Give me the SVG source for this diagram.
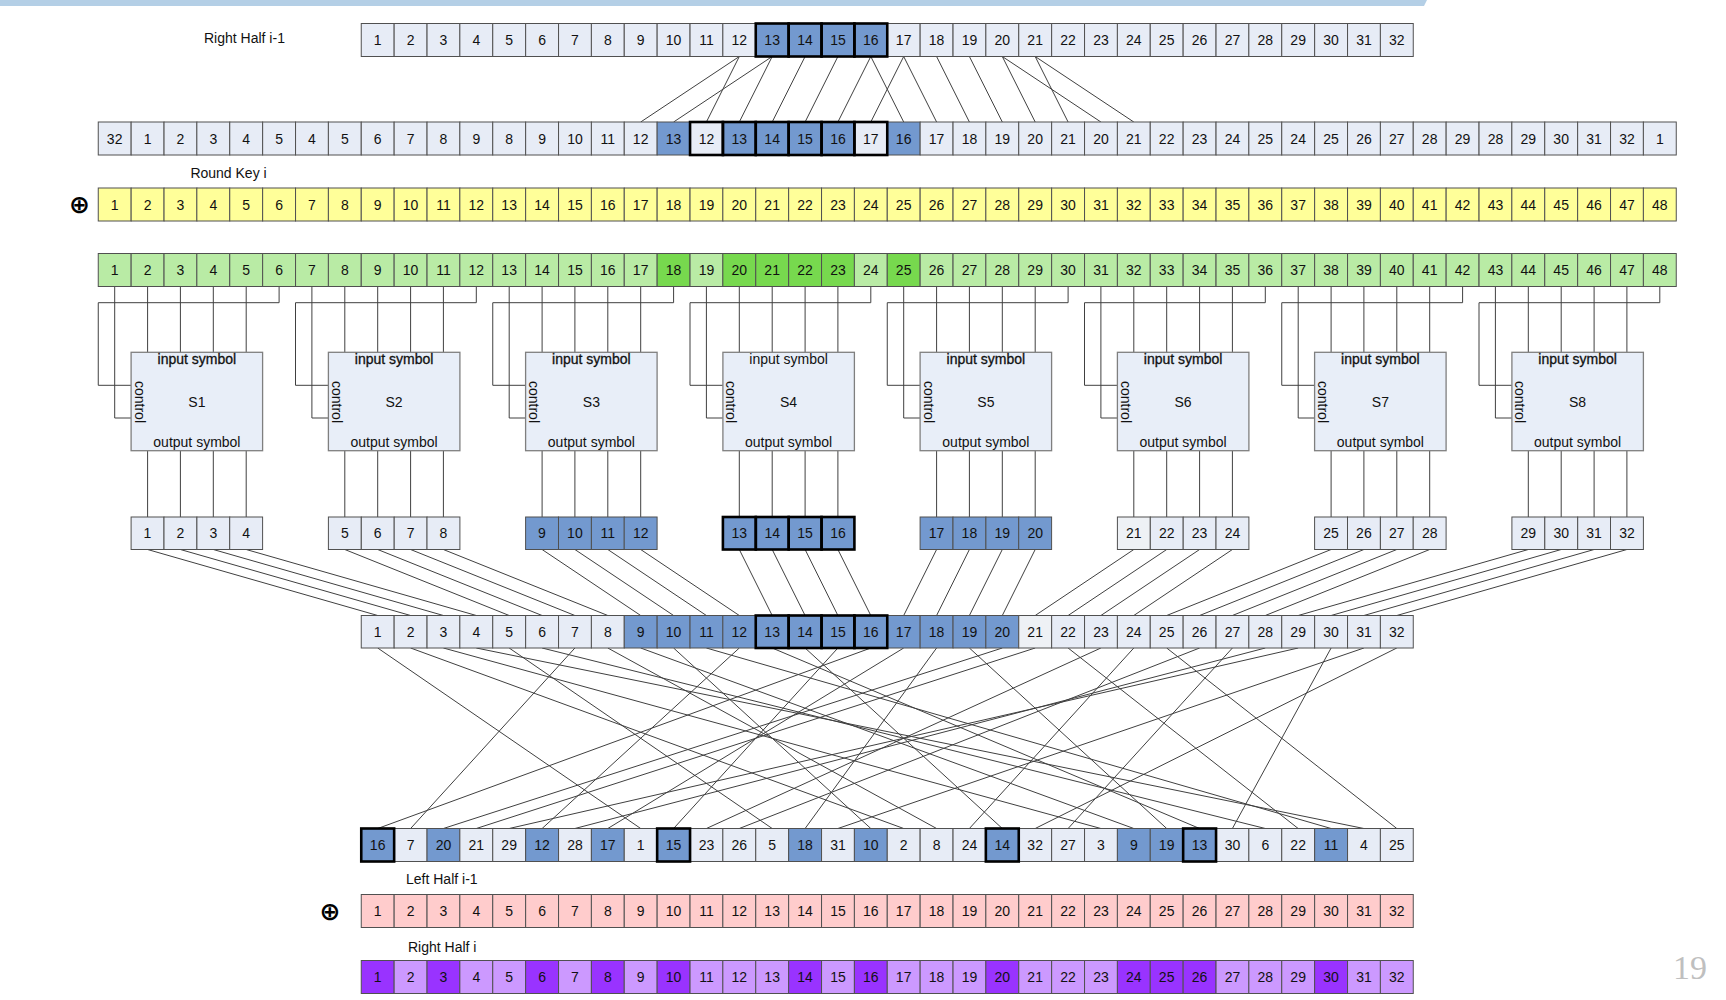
<svg xmlns="http://www.w3.org/2000/svg" width="1726" height="1000" viewBox="0 0 1726 1000">
<style>
.c{fill:#e7ecf6;stroke:#505050;stroke-width:1}
.w{fill:#eef1f5;stroke:#505050;stroke-width:1}
.b{fill:#7399cf;stroke:#505050;stroke-width:1}
.y{fill:#ffff99;stroke:#505050;stroke-width:1}
.g{fill:#b9eba5;stroke:#505050;stroke-width:1}
.G{fill:#77d94e;stroke:#505050;stroke-width:1}
.p{fill:#ffcccc;stroke:#505050;stroke-width:1}
.v{fill:#cc99ff;stroke:#505050;stroke-width:1}
.V{fill:#9933ff;stroke:#505050;stroke-width:1}
.bo{fill:none;stroke:#000;stroke-width:2.6}
.box{fill:#e8eef8;stroke:#7f7f7f;stroke-width:1.3}
.ln{fill:none;stroke:#404040;stroke-width:1}
text{font-family:'Liberation Sans',Arial,sans-serif;font-size:14px;fill:#111;text-anchor:middle}
.lbl{text-anchor:start}
.fb{stroke:#111;stroke-width:0.3}
.xor{font-family:'DejaVu Sans',sans-serif;font-size:25px;font-weight:bold;fill:#000}
.pg{font-family:'Liberation Serif',serif;font-size:34px;fill:#bfbfbf;text-anchor:start}
</style>

<polygon points="0,0 1427,0 1424,6 0,6" fill="#b4cfe6"/>

<g id="labels">
<text class="lbl" x="204" y="43.3">Right Half i-1</text>
<text class="lbl" x="190.4" y="178">Round Key i</text>
<text class="lbl" x="406" y="883.5">Left Half i-1</text>
<text class="lbl" x="408" y="952">Right Half i</text>
<text class="xor" x="79.5" y="212.5">⊕</text>
<text class="xor" x="330" y="919.5">⊕</text>
<text class="pg" x="1673" y="979">19</text>
</g>

<g id="connectors">
<path class="ln" d="M739.3,56.5L640.7,122 M772.2,56.5L673.6,122 M739.3,56.5L706.4,122 M772.2,56.5L739.3,122 M805.1,56.5L772.2,122 M837.9,56.5L805.1,122 M870.8,56.5L837.9,122 M903.7,56.5L870.8,122 M870.8,56.5L903.7,122 M903.7,56.5L936.6,122 M936.6,56.5L969.4,122 M969.4,56.5L1002.3,122 M1002.3,56.5L1035.2,122 M1035.2,56.5L1068.1,122 M1002.3,56.5L1100.9,122 M1035.2,56.5L1133.8,122"/>
<path class="ln" d="M114.7,286.5V418H131.1 M279.1,286.5V302.7H98.25V385.3H131.1 M147.6,286.5V352.3 M180.4,286.5V352.3 M213.3,286.5V352.3 M246.2,286.5V352.3 M147.6,450.7V517 M180.4,450.7V517 M213.3,450.7V517 M246.2,450.7V517"/>
<path class="ln" d="M311.9,286.5V418H328.4 M476.3,286.5V302.7H295.5V385.3H328.4 M344.8,286.5V352.3 M377.7,286.5V352.3 M410.6,286.5V352.3 M443.4,286.5V352.3 M344.8,450.7V517 M377.7,450.7V517 M410.6,450.7V517 M443.4,450.7V517"/>
<path class="ln" d="M509.2,286.5V418H525.6 M673.6,286.5V302.7H492.75V385.3H525.6 M542.1,286.5V352.3 M574.9,286.5V352.3 M607.8,286.5V352.3 M640.7,286.5V352.3 M542.1,450.7V517 M574.9,450.7V517 M607.8,450.7V517 M640.7,450.7V517"/>
<path class="ln" d="M706.4,286.5V418H722.9 M870.8,286.5V302.7H690V385.3H722.9 M739.3,286.5V352.3 M772.2,286.5V352.3 M805.1,286.5V352.3 M837.9,286.5V352.3 M739.3,450.7V517 M772.2,450.7V517 M805.1,450.7V517 M837.9,450.7V517"/>
<path class="ln" d="M903.7,286.5V418H920.1 M1068.1,286.5V302.7H887.25V385.3H920.1 M936.6,286.5V352.3 M969.4,286.5V352.3 M1002.3,286.5V352.3 M1035.2,286.5V352.3 M936.6,450.7V517 M969.4,450.7V517 M1002.3,450.7V517 M1035.2,450.7V517"/>
<path class="ln" d="M1100.9,286.5V418H1117.4 M1265.3,286.5V302.7H1084.5V385.3H1117.4 M1133.8,286.5V352.3 M1166.7,286.5V352.3 M1199.6,286.5V352.3 M1232.4,286.5V352.3 M1133.8,450.7V517 M1166.7,450.7V517 M1199.6,450.7V517 M1232.4,450.7V517"/>
<path class="ln" d="M1298.2,286.5V418H1314.6 M1462.6,286.5V302.7H1281.75V385.3H1314.6 M1331.1,286.5V352.3 M1363.9,286.5V352.3 M1396.8,286.5V352.3 M1429.7,286.5V352.3 M1331.1,450.7V517 M1363.9,450.7V517 M1396.8,450.7V517 M1429.7,450.7V517"/>
<path class="ln" d="M1495.4,286.5V418H1511.9 M1659.8,286.5V302.7H1479V385.3H1511.9 M1528.3,286.5V352.3 M1561.2,286.5V352.3 M1594.1,286.5V352.3 M1626.9,286.5V352.3 M1528.3,450.7V517 M1561.2,450.7V517 M1594.1,450.7V517 M1626.9,450.7V517"/>
<path class="ln" d="M147.6,549.5L377.7,615.5 M180.4,549.5L410.6,615.5 M213.3,549.5L443.4,615.5 M246.2,549.5L476.3,615.5 M344.8,549.5L509.2,615.5 M377.7,549.5L542.1,615.5 M410.6,549.5L574.9,615.5 M443.4,549.5L607.8,615.5 M542.1,549.5L640.7,615.5 M574.9,549.5L673.6,615.5 M607.8,549.5L706.4,615.5 M640.7,549.5L739.3,615.5 M739.3,549.5L772.2,615.5 M772.2,549.5L805.1,615.5 M805.1,549.5L837.9,615.5 M837.9,549.5L870.8,615.5 M936.6,549.5L903.7,615.5 M969.4,549.5L936.6,615.5 M1002.3,549.5L969.4,615.5 M1035.2,549.5L1002.3,615.5 M1133.8,549.5L1035.2,615.5 M1166.7,549.5L1068.1,615.5 M1199.6,549.5L1100.9,615.5 M1232.4,549.5L1133.8,615.5 M1331.1,549.5L1166.7,615.5 M1363.9,549.5L1199.6,615.5 M1396.8,549.5L1232.4,615.5 M1429.7,549.5L1265.3,615.5 M1528.3,549.5L1298.2,615.5 M1561.2,549.5L1331.1,615.5 M1594.1,549.5L1363.9,615.5 M1626.9,549.5L1396.8,615.5"/>
<path class="ln" d="M870.8,648L377.7,828.5 M574.9,648L410.6,828.5 M1002.3,648L443.4,828.5 M1035.2,648L476.3,828.5 M1298.2,648L509.2,828.5 M739.3,648L542.1,828.5 M1265.3,648L574.9,828.5 M903.7,648L607.8,828.5 M377.7,648L640.7,828.5 M837.9,648L673.6,828.5 M1100.9,648L706.4,828.5 M1199.6,648L739.3,828.5 M509.2,648L772.2,828.5 M936.6,648L805.1,828.5 M1363.9,648L837.9,828.5 M673.6,648L870.8,828.5 M410.6,648L903.7,828.5 M607.8,648L936.6,828.5 M1133.8,648L969.4,828.5 M805.1,648L1002.3,828.5 M1396.8,648L1035.2,828.5 M1232.4,648L1068.1,828.5 M443.4,648L1100.9,828.5 M640.7,648L1133.8,828.5 M969.4,648L1166.7,828.5 M772.2,648L1199.6,828.5 M1331.1,648L1232.4,828.5 M542.1,648L1265.3,828.5 M1068.1,648L1298.2,828.5 M706.4,648L1331.1,828.5 M476.3,648L1363.9,828.5 M1166.7,648L1396.8,828.5"/>
</g>

<g id="right-half-prev" transform="translate(361.25,23.5)">
<rect class="c" x="0" width="32.9" height="33"/><text x="16.4" y="21.5">1</text>
<rect class="c" x="32.9" width="32.9" height="33"/><text x="49.3" y="21.5">2</text>
<rect class="c" x="65.8" width="32.9" height="33"/><text x="82.2" y="21.5">3</text>
<rect class="c" x="98.6" width="32.9" height="33"/><text x="115.1" y="21.5">4</text>
<rect class="c" x="131.5" width="32.9" height="33"/><text x="147.9" y="21.5">5</text>
<rect class="c" x="164.4" width="32.9" height="33"/><text x="180.8" y="21.5">6</text>
<rect class="c" x="197.3" width="32.9" height="33"/><text x="213.7" y="21.5">7</text>
<rect class="c" x="230.1" width="32.9" height="33"/><text x="246.6" y="21.5">8</text>
<rect class="c" x="263" width="32.9" height="33"/><text x="279.4" y="21.5">9</text>
<rect class="c" x="295.9" width="32.9" height="33"/><text x="312.3" y="21.5">10</text>
<rect class="c" x="328.8" width="32.9" height="33"/><text x="345.2" y="21.5">11</text>
<rect class="c" x="361.6" width="32.9" height="33"/><text x="378.1" y="21.5">12</text>
<rect class="b" x="394.5" width="32.9" height="33"/><text x="410.9" y="21.5">13</text>
<rect class="b" x="427.4" width="32.9" height="33"/><text x="443.8" y="21.5">14</text>
<rect class="b" x="460.3" width="32.9" height="33"/><text x="476.7" y="21.5">15</text>
<rect class="b" x="493.1" width="32.9" height="33"/><text x="509.6" y="21.5">16</text>
<rect class="c" x="526" width="32.9" height="33"/><text x="542.4" y="21.5">17</text>
<rect class="c" x="558.9" width="32.9" height="33"/><text x="575.3" y="21.5">18</text>
<rect class="c" x="591.8" width="32.9" height="33"/><text x="608.2" y="21.5">19</text>
<rect class="c" x="624.6" width="32.9" height="33"/><text x="641.1" y="21.5">20</text>
<rect class="c" x="657.5" width="32.9" height="33"/><text x="673.9" y="21.5">21</text>
<rect class="c" x="690.4" width="32.9" height="33"/><text x="706.8" y="21.5">22</text>
<rect class="c" x="723.3" width="32.9" height="33"/><text x="739.7" y="21.5">23</text>
<rect class="c" x="756.1" width="32.9" height="33"/><text x="772.6" y="21.5">24</text>
<rect class="c" x="789" width="32.9" height="33"/><text x="805.4" y="21.5">25</text>
<rect class="c" x="821.9" width="32.9" height="33"/><text x="838.3" y="21.5">26</text>
<rect class="c" x="854.8" width="32.9" height="33"/><text x="871.2" y="21.5">27</text>
<rect class="c" x="887.6" width="32.9" height="33"/><text x="904.1" y="21.5">28</text>
<rect class="c" x="920.5" width="32.9" height="33"/><text x="936.9" y="21.5">29</text>
<rect class="c" x="953.4" width="32.9" height="33"/><text x="969.8" y="21.5">30</text>
<rect class="c" x="986.3" width="32.9" height="33"/><text x="1002.7" y="21.5">31</text>
<rect class="c" x="1019.1" width="32.9" height="33"/><text x="1035.6" y="21.5">32</text>
<rect class="bo" x="394.5" width="32.9" height="33"/><rect class="bo" x="427.4" width="32.9" height="33"/><rect class="bo" x="460.3" width="32.9" height="33"/><rect class="bo" x="493.1" width="32.9" height="33"/>
</g>

<g id="expansion" transform="translate(98.25,122)">
<rect class="c" x="0" width="32.9" height="33"/><text x="16.4" y="21.5">32</text>
<rect class="c" x="32.9" width="32.9" height="33"/><text x="49.3" y="21.5">1</text>
<rect class="c" x="65.8" width="32.9" height="33"/><text x="82.2" y="21.5">2</text>
<rect class="c" x="98.6" width="32.9" height="33"/><text x="115.1" y="21.5">3</text>
<rect class="c" x="131.5" width="32.9" height="33"/><text x="147.9" y="21.5">4</text>
<rect class="c" x="164.4" width="32.9" height="33"/><text x="180.8" y="21.5">5</text>
<rect class="c" x="197.3" width="32.9" height="33"/><text x="213.7" y="21.5">4</text>
<rect class="c" x="230.1" width="32.9" height="33"/><text x="246.6" y="21.5">5</text>
<rect class="c" x="263" width="32.9" height="33"/><text x="279.4" y="21.5">6</text>
<rect class="c" x="295.9" width="32.9" height="33"/><text x="312.3" y="21.5">7</text>
<rect class="c" x="328.8" width="32.9" height="33"/><text x="345.2" y="21.5">8</text>
<rect class="c" x="361.6" width="32.9" height="33"/><text x="378.1" y="21.5">9</text>
<rect class="c" x="394.5" width="32.9" height="33"/><text x="410.9" y="21.5">8</text>
<rect class="c" x="427.4" width="32.9" height="33"/><text x="443.8" y="21.5">9</text>
<rect class="c" x="460.3" width="32.9" height="33"/><text x="476.7" y="21.5">10</text>
<rect class="c" x="493.1" width="32.9" height="33"/><text x="509.6" y="21.5">11</text>
<rect class="c" x="526" width="32.9" height="33"/><text x="542.4" y="21.5">12</text>
<rect class="b" x="558.9" width="32.9" height="33"/><text x="575.3" y="21.5">13</text>
<rect class="c" x="591.8" width="32.9" height="33"/><text x="608.2" y="21.5">12</text>
<rect class="b" x="624.6" width="32.9" height="33"/><text x="641.1" y="21.5">13</text>
<rect class="b" x="657.5" width="32.9" height="33"/><text x="673.9" y="21.5">14</text>
<rect class="b" x="690.4" width="32.9" height="33"/><text x="706.8" y="21.5">15</text>
<rect class="b" x="723.3" width="32.9" height="33"/><text x="739.7" y="21.5">16</text>
<rect class="c" x="756.1" width="32.9" height="33"/><text x="772.6" y="21.5">17</text>
<rect class="b" x="789" width="32.9" height="33"/><text x="805.4" y="21.5">16</text>
<rect class="c" x="821.9" width="32.9" height="33"/><text x="838.3" y="21.5">17</text>
<rect class="c" x="854.8" width="32.9" height="33"/><text x="871.2" y="21.5">18</text>
<rect class="c" x="887.6" width="32.9" height="33"/><text x="904.1" y="21.5">19</text>
<rect class="c" x="920.5" width="32.9" height="33"/><text x="936.9" y="21.5">20</text>
<rect class="c" x="953.4" width="32.9" height="33"/><text x="969.8" y="21.5">21</text>
<rect class="c" x="986.3" width="32.9" height="33"/><text x="1002.7" y="21.5">20</text>
<rect class="c" x="1019.1" width="32.9" height="33"/><text x="1035.6" y="21.5">21</text>
<rect class="c" x="1052" width="32.9" height="33"/><text x="1068.4" y="21.5">22</text>
<rect class="c" x="1084.9" width="32.9" height="33"/><text x="1101.3" y="21.5">23</text>
<rect class="c" x="1117.8" width="32.9" height="33"/><text x="1134.2" y="21.5">24</text>
<rect class="c" x="1150.6" width="32.9" height="33"/><text x="1167.1" y="21.5">25</text>
<rect class="c" x="1183.5" width="32.9" height="33"/><text x="1199.9" y="21.5">24</text>
<rect class="c" x="1216.4" width="32.9" height="33"/><text x="1232.8" y="21.5">25</text>
<rect class="c" x="1249.3" width="32.9" height="33"/><text x="1265.7" y="21.5">26</text>
<rect class="c" x="1282.1" width="32.9" height="33"/><text x="1298.6" y="21.5">27</text>
<rect class="c" x="1315" width="32.9" height="33"/><text x="1331.4" y="21.5">28</text>
<rect class="c" x="1347.9" width="32.9" height="33"/><text x="1364.3" y="21.5">29</text>
<rect class="c" x="1380.8" width="32.9" height="33"/><text x="1397.2" y="21.5">28</text>
<rect class="c" x="1413.6" width="32.9" height="33"/><text x="1430.1" y="21.5">29</text>
<rect class="c" x="1446.5" width="32.9" height="33"/><text x="1462.9" y="21.5">30</text>
<rect class="c" x="1479.4" width="32.9" height="33"/><text x="1495.8" y="21.5">31</text>
<rect class="c" x="1512.3" width="32.9" height="33"/><text x="1528.7" y="21.5">32</text>
<rect class="c" x="1545.1" width="32.9" height="33"/><text x="1561.6" y="21.5">1</text>
<rect class="bo" x="591.8" width="32.9" height="33"/><rect class="bo" x="624.6" width="32.9" height="33"/><rect class="bo" x="657.5" width="32.9" height="33"/><rect class="bo" x="690.4" width="32.9" height="33"/><rect class="bo" x="723.3" width="32.9" height="33"/><rect class="bo" x="756.1" width="32.9" height="33"/>
</g>

<g id="round-key" transform="translate(98.25,188)">
<rect class="y" x="0" width="32.9" height="33"/><text x="16.4" y="21.5">1</text>
<rect class="y" x="32.9" width="32.9" height="33"/><text x="49.3" y="21.5">2</text>
<rect class="y" x="65.8" width="32.9" height="33"/><text x="82.2" y="21.5">3</text>
<rect class="y" x="98.6" width="32.9" height="33"/><text x="115.1" y="21.5">4</text>
<rect class="y" x="131.5" width="32.9" height="33"/><text x="147.9" y="21.5">5</text>
<rect class="y" x="164.4" width="32.9" height="33"/><text x="180.8" y="21.5">6</text>
<rect class="y" x="197.3" width="32.9" height="33"/><text x="213.7" y="21.5">7</text>
<rect class="y" x="230.1" width="32.9" height="33"/><text x="246.6" y="21.5">8</text>
<rect class="y" x="263" width="32.9" height="33"/><text x="279.4" y="21.5">9</text>
<rect class="y" x="295.9" width="32.9" height="33"/><text x="312.3" y="21.5">10</text>
<rect class="y" x="328.8" width="32.9" height="33"/><text x="345.2" y="21.5">11</text>
<rect class="y" x="361.6" width="32.9" height="33"/><text x="378.1" y="21.5">12</text>
<rect class="y" x="394.5" width="32.9" height="33"/><text x="410.9" y="21.5">13</text>
<rect class="y" x="427.4" width="32.9" height="33"/><text x="443.8" y="21.5">14</text>
<rect class="y" x="460.3" width="32.9" height="33"/><text x="476.7" y="21.5">15</text>
<rect class="y" x="493.1" width="32.9" height="33"/><text x="509.6" y="21.5">16</text>
<rect class="y" x="526" width="32.9" height="33"/><text x="542.4" y="21.5">17</text>
<rect class="y" x="558.9" width="32.9" height="33"/><text x="575.3" y="21.5">18</text>
<rect class="y" x="591.8" width="32.9" height="33"/><text x="608.2" y="21.5">19</text>
<rect class="y" x="624.6" width="32.9" height="33"/><text x="641.1" y="21.5">20</text>
<rect class="y" x="657.5" width="32.9" height="33"/><text x="673.9" y="21.5">21</text>
<rect class="y" x="690.4" width="32.9" height="33"/><text x="706.8" y="21.5">22</text>
<rect class="y" x="723.3" width="32.9" height="33"/><text x="739.7" y="21.5">23</text>
<rect class="y" x="756.1" width="32.9" height="33"/><text x="772.6" y="21.5">24</text>
<rect class="y" x="789" width="32.9" height="33"/><text x="805.4" y="21.5">25</text>
<rect class="y" x="821.9" width="32.9" height="33"/><text x="838.3" y="21.5">26</text>
<rect class="y" x="854.8" width="32.9" height="33"/><text x="871.2" y="21.5">27</text>
<rect class="y" x="887.6" width="32.9" height="33"/><text x="904.1" y="21.5">28</text>
<rect class="y" x="920.5" width="32.9" height="33"/><text x="936.9" y="21.5">29</text>
<rect class="y" x="953.4" width="32.9" height="33"/><text x="969.8" y="21.5">30</text>
<rect class="y" x="986.3" width="32.9" height="33"/><text x="1002.7" y="21.5">31</text>
<rect class="y" x="1019.1" width="32.9" height="33"/><text x="1035.6" y="21.5">32</text>
<rect class="y" x="1052" width="32.9" height="33"/><text x="1068.4" y="21.5">33</text>
<rect class="y" x="1084.9" width="32.9" height="33"/><text x="1101.3" y="21.5">34</text>
<rect class="y" x="1117.8" width="32.9" height="33"/><text x="1134.2" y="21.5">35</text>
<rect class="y" x="1150.6" width="32.9" height="33"/><text x="1167.1" y="21.5">36</text>
<rect class="y" x="1183.5" width="32.9" height="33"/><text x="1199.9" y="21.5">37</text>
<rect class="y" x="1216.4" width="32.9" height="33"/><text x="1232.8" y="21.5">38</text>
<rect class="y" x="1249.3" width="32.9" height="33"/><text x="1265.7" y="21.5">39</text>
<rect class="y" x="1282.1" width="32.9" height="33"/><text x="1298.6" y="21.5">40</text>
<rect class="y" x="1315" width="32.9" height="33"/><text x="1331.4" y="21.5">41</text>
<rect class="y" x="1347.9" width="32.9" height="33"/><text x="1364.3" y="21.5">42</text>
<rect class="y" x="1380.8" width="32.9" height="33"/><text x="1397.2" y="21.5">43</text>
<rect class="y" x="1413.6" width="32.9" height="33"/><text x="1430.1" y="21.5">44</text>
<rect class="y" x="1446.5" width="32.9" height="33"/><text x="1462.9" y="21.5">45</text>
<rect class="y" x="1479.4" width="32.9" height="33"/><text x="1495.8" y="21.5">46</text>
<rect class="y" x="1512.3" width="32.9" height="33"/><text x="1528.7" y="21.5">47</text>
<rect class="y" x="1545.1" width="32.9" height="33"/><text x="1561.6" y="21.5">48</text>
</g>

<g id="xor-result" transform="translate(98.25,253.5)">
<rect class="g" x="0" width="32.9" height="33"/><text x="16.4" y="21.5">1</text>
<rect class="g" x="32.9" width="32.9" height="33"/><text x="49.3" y="21.5">2</text>
<rect class="g" x="65.8" width="32.9" height="33"/><text x="82.2" y="21.5">3</text>
<rect class="g" x="98.6" width="32.9" height="33"/><text x="115.1" y="21.5">4</text>
<rect class="g" x="131.5" width="32.9" height="33"/><text x="147.9" y="21.5">5</text>
<rect class="g" x="164.4" width="32.9" height="33"/><text x="180.8" y="21.5">6</text>
<rect class="g" x="197.3" width="32.9" height="33"/><text x="213.7" y="21.5">7</text>
<rect class="g" x="230.1" width="32.9" height="33"/><text x="246.6" y="21.5">8</text>
<rect class="g" x="263" width="32.9" height="33"/><text x="279.4" y="21.5">9</text>
<rect class="g" x="295.9" width="32.9" height="33"/><text x="312.3" y="21.5">10</text>
<rect class="g" x="328.8" width="32.9" height="33"/><text x="345.2" y="21.5">11</text>
<rect class="g" x="361.6" width="32.9" height="33"/><text x="378.1" y="21.5">12</text>
<rect class="g" x="394.5" width="32.9" height="33"/><text x="410.9" y="21.5">13</text>
<rect class="g" x="427.4" width="32.9" height="33"/><text x="443.8" y="21.5">14</text>
<rect class="g" x="460.3" width="32.9" height="33"/><text x="476.7" y="21.5">15</text>
<rect class="g" x="493.1" width="32.9" height="33"/><text x="509.6" y="21.5">16</text>
<rect class="g" x="526" width="32.9" height="33"/><text x="542.4" y="21.5">17</text>
<rect class="G" x="558.9" width="32.9" height="33"/><text x="575.3" y="21.5">18</text>
<rect class="g" x="591.8" width="32.9" height="33"/><text x="608.2" y="21.5">19</text>
<rect class="G" x="624.6" width="32.9" height="33"/><text x="641.1" y="21.5">20</text>
<rect class="G" x="657.5" width="32.9" height="33"/><text x="673.9" y="21.5">21</text>
<rect class="G" x="690.4" width="32.9" height="33"/><text x="706.8" y="21.5">22</text>
<rect class="G" x="723.3" width="32.9" height="33"/><text x="739.7" y="21.5">23</text>
<rect class="g" x="756.1" width="32.9" height="33"/><text x="772.6" y="21.5">24</text>
<rect class="G" x="789" width="32.9" height="33"/><text x="805.4" y="21.5">25</text>
<rect class="g" x="821.9" width="32.9" height="33"/><text x="838.3" y="21.5">26</text>
<rect class="g" x="854.8" width="32.9" height="33"/><text x="871.2" y="21.5">27</text>
<rect class="g" x="887.6" width="32.9" height="33"/><text x="904.1" y="21.5">28</text>
<rect class="g" x="920.5" width="32.9" height="33"/><text x="936.9" y="21.5">29</text>
<rect class="g" x="953.4" width="32.9" height="33"/><text x="969.8" y="21.5">30</text>
<rect class="g" x="986.3" width="32.9" height="33"/><text x="1002.7" y="21.5">31</text>
<rect class="g" x="1019.1" width="32.9" height="33"/><text x="1035.6" y="21.5">32</text>
<rect class="g" x="1052" width="32.9" height="33"/><text x="1068.4" y="21.5">33</text>
<rect class="g" x="1084.9" width="32.9" height="33"/><text x="1101.3" y="21.5">34</text>
<rect class="g" x="1117.8" width="32.9" height="33"/><text x="1134.2" y="21.5">35</text>
<rect class="g" x="1150.6" width="32.9" height="33"/><text x="1167.1" y="21.5">36</text>
<rect class="g" x="1183.5" width="32.9" height="33"/><text x="1199.9" y="21.5">37</text>
<rect class="g" x="1216.4" width="32.9" height="33"/><text x="1232.8" y="21.5">38</text>
<rect class="g" x="1249.3" width="32.9" height="33"/><text x="1265.7" y="21.5">39</text>
<rect class="g" x="1282.1" width="32.9" height="33"/><text x="1298.6" y="21.5">40</text>
<rect class="g" x="1315" width="32.9" height="33"/><text x="1331.4" y="21.5">41</text>
<rect class="g" x="1347.9" width="32.9" height="33"/><text x="1364.3" y="21.5">42</text>
<rect class="g" x="1380.8" width="32.9" height="33"/><text x="1397.2" y="21.5">43</text>
<rect class="g" x="1413.6" width="32.9" height="33"/><text x="1430.1" y="21.5">44</text>
<rect class="g" x="1446.5" width="32.9" height="33"/><text x="1462.9" y="21.5">45</text>
<rect class="g" x="1479.4" width="32.9" height="33"/><text x="1495.8" y="21.5">46</text>
<rect class="g" x="1512.3" width="32.9" height="33"/><text x="1528.7" y="21.5">47</text>
<rect class="g" x="1545.1" width="32.9" height="33"/><text x="1561.6" y="21.5">48</text>
</g>

<g id="s1"><rect class="box" x="131.1" y="352.3" width="131.5" height="98.4"/><text class="fb" x="196.9" y="364">input symbol</text><text x="196.9" y="407">S1</text><text x="196.9" y="447">output symbol</text><text transform="translate(134.6,402) rotate(90)">control</text></g>
<g id="s2"><rect class="box" x="328.4" y="352.3" width="131.5" height="98.4"/><text class="fb" x="394.1" y="364">input symbol</text><text x="394.1" y="407">S2</text><text x="394.1" y="447">output symbol</text><text transform="translate(331.9,402) rotate(90)">control</text></g>
<g id="s3"><rect class="box" x="525.6" y="352.3" width="131.5" height="98.4"/><text class="fb" x="591.4" y="364">input symbol</text><text x="591.4" y="407">S3</text><text x="591.4" y="447">output symbol</text><text transform="translate(529.1,402) rotate(90)">control</text></g>
<g id="s4"><rect class="box" x="722.9" y="352.3" width="131.5" height="98.4"/><text x="788.6" y="364">input symbol</text><text x="788.6" y="407">S4</text><text x="788.6" y="447">output symbol</text><text transform="translate(726.4,402) rotate(90)">control</text></g>
<g id="s5"><rect class="box" x="920.1" y="352.3" width="131.5" height="98.4"/><text class="fb" x="985.9" y="364">input symbol</text><text x="985.9" y="407">S5</text><text x="985.9" y="447">output symbol</text><text transform="translate(923.6,402) rotate(90)">control</text></g>
<g id="s6"><rect class="box" x="1117.4" y="352.3" width="131.5" height="98.4"/><text class="fb" x="1183.1" y="364">input symbol</text><text x="1183.1" y="407">S6</text><text x="1183.1" y="447">output symbol</text><text transform="translate(1120.9,402) rotate(90)">control</text></g>
<g id="s7"><rect class="box" x="1314.6" y="352.3" width="131.5" height="98.4"/><text class="fb" x="1380.4" y="364">input symbol</text><text x="1380.4" y="407">S7</text><text x="1380.4" y="447">output symbol</text><text transform="translate(1318.1,402) rotate(90)">control</text></g>
<g id="s8"><rect class="box" x="1511.9" y="352.3" width="131.5" height="98.4"/><text class="fb" x="1577.6" y="364">input symbol</text><text x="1577.6" y="407">S8</text><text x="1577.6" y="447">output symbol</text><text transform="translate(1515.4,402) rotate(90)">control</text></g>

<g id="out1" transform="translate(131.1,517)"><rect class="c" x="0" width="32.9" height="32.5"/><text x="16.4" y="21">1</text><rect class="c" x="32.9" width="32.9" height="32.5"/><text x="49.3" y="21">2</text><rect class="c" x="65.8" width="32.9" height="32.5"/><text x="82.2" y="21">3</text><rect class="c" x="98.6" width="32.9" height="32.5"/><text x="115.1" y="21">4</text></g>
<g id="out2" transform="translate(328.4,517)"><rect class="c" x="0" width="32.9" height="32.5"/><text x="16.4" y="21">5</text><rect class="c" x="32.9" width="32.9" height="32.5"/><text x="49.3" y="21">6</text><rect class="c" x="65.8" width="32.9" height="32.5"/><text x="82.2" y="21">7</text><rect class="c" x="98.6" width="32.9" height="32.5"/><text x="115.1" y="21">8</text></g>
<g id="out3" transform="translate(525.6,517)"><rect class="b" x="0" width="32.9" height="32.5"/><text x="16.4" y="21">9</text><rect class="b" x="32.9" width="32.9" height="32.5"/><text x="49.3" y="21">10</text><rect class="b" x="65.8" width="32.9" height="32.5"/><text x="82.2" y="21">11</text><rect class="b" x="98.6" width="32.9" height="32.5"/><text x="115.1" y="21">12</text></g>
<g id="out4" transform="translate(722.9,517)"><rect class="b" x="0" width="32.9" height="32.5"/><text x="16.4" y="21">13</text><rect class="b" x="32.9" width="32.9" height="32.5"/><text x="49.3" y="21">14</text><rect class="b" x="65.8" width="32.9" height="32.5"/><text x="82.2" y="21">15</text><rect class="b" x="98.6" width="32.9" height="32.5"/><text x="115.1" y="21">16</text><rect class="bo" x="0" width="32.9" height="32.5"/><rect class="bo" x="32.9" width="32.9" height="32.5"/><rect class="bo" x="65.8" width="32.9" height="32.5"/><rect class="bo" x="98.6" width="32.9" height="32.5"/></g>
<g id="out5" transform="translate(920.1,517)"><rect class="b" x="0" width="32.9" height="32.5"/><text x="16.4" y="21">17</text><rect class="b" x="32.9" width="32.9" height="32.5"/><text x="49.3" y="21">18</text><rect class="b" x="65.8" width="32.9" height="32.5"/><text x="82.2" y="21">19</text><rect class="b" x="98.6" width="32.9" height="32.5"/><text x="115.1" y="21">20</text></g>
<g id="out6" transform="translate(1117.4,517)"><rect class="w" x="0" width="32.9" height="32.5"/><text x="16.4" y="21">21</text><rect class="c" x="32.9" width="32.9" height="32.5"/><text x="49.3" y="21">22</text><rect class="c" x="65.8" width="32.9" height="32.5"/><text x="82.2" y="21">23</text><rect class="c" x="98.6" width="32.9" height="32.5"/><text x="115.1" y="21">24</text></g>
<g id="out7" transform="translate(1314.6,517)"><rect class="c" x="0" width="32.9" height="32.5"/><text x="16.4" y="21">25</text><rect class="c" x="32.9" width="32.9" height="32.5"/><text x="49.3" y="21">26</text><rect class="c" x="65.8" width="32.9" height="32.5"/><text x="82.2" y="21">27</text><rect class="c" x="98.6" width="32.9" height="32.5"/><text x="115.1" y="21">28</text></g>
<g id="out8" transform="translate(1511.9,517)"><rect class="c" x="0" width="32.9" height="32.5"/><text x="16.4" y="21">29</text><rect class="c" x="32.9" width="32.9" height="32.5"/><text x="49.3" y="21">30</text><rect class="c" x="65.8" width="32.9" height="32.5"/><text x="82.2" y="21">31</text><rect class="c" x="98.6" width="32.9" height="32.5"/><text x="115.1" y="21">32</text></g>

<g id="sbox-output" transform="translate(361.25,615.5)">
<rect class="c" x="0" width="32.9" height="32.5"/><text x="16.4" y="21">1</text>
<rect class="c" x="32.9" width="32.9" height="32.5"/><text x="49.3" y="21">2</text>
<rect class="c" x="65.8" width="32.9" height="32.5"/><text x="82.2" y="21">3</text>
<rect class="c" x="98.6" width="32.9" height="32.5"/><text x="115.1" y="21">4</text>
<rect class="c" x="131.5" width="32.9" height="32.5"/><text x="147.9" y="21">5</text>
<rect class="c" x="164.4" width="32.9" height="32.5"/><text x="180.8" y="21">6</text>
<rect class="c" x="197.3" width="32.9" height="32.5"/><text x="213.7" y="21">7</text>
<rect class="c" x="230.1" width="32.9" height="32.5"/><text x="246.6" y="21">8</text>
<rect class="b" x="263" width="32.9" height="32.5"/><text x="279.4" y="21">9</text>
<rect class="b" x="295.9" width="32.9" height="32.5"/><text x="312.3" y="21">10</text>
<rect class="b" x="328.8" width="32.9" height="32.5"/><text x="345.2" y="21">11</text>
<rect class="b" x="361.6" width="32.9" height="32.5"/><text x="378.1" y="21">12</text>
<rect class="b" x="394.5" width="32.9" height="32.5"/><text x="410.9" y="21">13</text>
<rect class="b" x="427.4" width="32.9" height="32.5"/><text x="443.8" y="21">14</text>
<rect class="b" x="460.3" width="32.9" height="32.5"/><text x="476.7" y="21">15</text>
<rect class="b" x="493.1" width="32.9" height="32.5"/><text x="509.6" y="21">16</text>
<rect class="b" x="526" width="32.9" height="32.5"/><text x="542.4" y="21">17</text>
<rect class="b" x="558.9" width="32.9" height="32.5"/><text x="575.3" y="21">18</text>
<rect class="b" x="591.8" width="32.9" height="32.5"/><text x="608.2" y="21">19</text>
<rect class="b" x="624.6" width="32.9" height="32.5"/><text x="641.1" y="21">20</text>
<rect class="w" x="657.5" width="32.9" height="32.5"/><text x="673.9" y="21">21</text>
<rect class="c" x="690.4" width="32.9" height="32.5"/><text x="706.8" y="21">22</text>
<rect class="c" x="723.3" width="32.9" height="32.5"/><text x="739.7" y="21">23</text>
<rect class="c" x="756.1" width="32.9" height="32.5"/><text x="772.6" y="21">24</text>
<rect class="c" x="789" width="32.9" height="32.5"/><text x="805.4" y="21">25</text>
<rect class="c" x="821.9" width="32.9" height="32.5"/><text x="838.3" y="21">26</text>
<rect class="c" x="854.8" width="32.9" height="32.5"/><text x="871.2" y="21">27</text>
<rect class="c" x="887.6" width="32.9" height="32.5"/><text x="904.1" y="21">28</text>
<rect class="c" x="920.5" width="32.9" height="32.5"/><text x="936.9" y="21">29</text>
<rect class="c" x="953.4" width="32.9" height="32.5"/><text x="969.8" y="21">30</text>
<rect class="c" x="986.3" width="32.9" height="32.5"/><text x="1002.7" y="21">31</text>
<rect class="c" x="1019.1" width="32.9" height="32.5"/><text x="1035.6" y="21">32</text>
<rect class="bo" x="394.5" width="32.9" height="32.5"/><rect class="bo" x="427.4" width="32.9" height="32.5"/><rect class="bo" x="460.3" width="32.9" height="32.5"/><rect class="bo" x="493.1" width="32.9" height="32.5"/>
</g>

<g id="permuted" transform="translate(361.25,828.5)">
<rect class="b" x="0" width="32.9" height="33"/><text x="16.4" y="21.5">16</text>
<rect class="c" x="32.9" width="32.9" height="33"/><text x="49.3" y="21.5">7</text>
<rect class="b" x="65.8" width="32.9" height="33"/><text x="82.2" y="21.5">20</text>
<rect class="c" x="98.6" width="32.9" height="33"/><text x="115.1" y="21.5">21</text>
<rect class="c" x="131.5" width="32.9" height="33"/><text x="147.9" y="21.5">29</text>
<rect class="b" x="164.4" width="32.9" height="33"/><text x="180.8" y="21.5">12</text>
<rect class="c" x="197.3" width="32.9" height="33"/><text x="213.7" y="21.5">28</text>
<rect class="b" x="230.1" width="32.9" height="33"/><text x="246.6" y="21.5">17</text>
<rect class="c" x="263" width="32.9" height="33"/><text x="279.4" y="21.5">1</text>
<rect class="b" x="295.9" width="32.9" height="33"/><text x="312.3" y="21.5">15</text>
<rect class="c" x="328.8" width="32.9" height="33"/><text x="345.2" y="21.5">23</text>
<rect class="c" x="361.6" width="32.9" height="33"/><text x="378.1" y="21.5">26</text>
<rect class="c" x="394.5" width="32.9" height="33"/><text x="410.9" y="21.5">5</text>
<rect class="b" x="427.4" width="32.9" height="33"/><text x="443.8" y="21.5">18</text>
<rect class="c" x="460.3" width="32.9" height="33"/><text x="476.7" y="21.5">31</text>
<rect class="b" x="493.1" width="32.9" height="33"/><text x="509.6" y="21.5">10</text>
<rect class="c" x="526" width="32.9" height="33"/><text x="542.4" y="21.5">2</text>
<rect class="c" x="558.9" width="32.9" height="33"/><text x="575.3" y="21.5">8</text>
<rect class="c" x="591.8" width="32.9" height="33"/><text x="608.2" y="21.5">24</text>
<rect class="b" x="624.6" width="32.9" height="33"/><text x="641.1" y="21.5">14</text>
<rect class="c" x="657.5" width="32.9" height="33"/><text x="673.9" y="21.5">32</text>
<rect class="c" x="690.4" width="32.9" height="33"/><text x="706.8" y="21.5">27</text>
<rect class="c" x="723.3" width="32.9" height="33"/><text x="739.7" y="21.5">3</text>
<rect class="b" x="756.1" width="32.9" height="33"/><text x="772.6" y="21.5">9</text>
<rect class="b" x="789" width="32.9" height="33"/><text x="805.4" y="21.5">19</text>
<rect class="b" x="821.9" width="32.9" height="33"/><text x="838.3" y="21.5">13</text>
<rect class="c" x="854.8" width="32.9" height="33"/><text x="871.2" y="21.5">30</text>
<rect class="c" x="887.6" width="32.9" height="33"/><text x="904.1" y="21.5">6</text>
<rect class="c" x="920.5" width="32.9" height="33"/><text x="936.9" y="21.5">22</text>
<rect class="b" x="953.4" width="32.9" height="33"/><text x="969.8" y="21.5">11</text>
<rect class="c" x="986.3" width="32.9" height="33"/><text x="1002.7" y="21.5">4</text>
<rect class="c" x="1019.1" width="32.9" height="33"/><text x="1035.6" y="21.5">25</text>
<rect class="bo" x="0" width="32.9" height="33"/><rect class="bo" x="295.9" width="32.9" height="33"/><rect class="bo" x="624.6" width="32.9" height="33"/><rect class="bo" x="821.9" width="32.9" height="33"/>
</g>

<g id="left-half-prev" transform="translate(361.25,894.5)">
<rect class="p" x="0" width="32.9" height="33"/><text x="16.4" y="21.5">1</text>
<rect class="p" x="32.9" width="32.9" height="33"/><text x="49.3" y="21.5">2</text>
<rect class="p" x="65.8" width="32.9" height="33"/><text x="82.2" y="21.5">3</text>
<rect class="p" x="98.6" width="32.9" height="33"/><text x="115.1" y="21.5">4</text>
<rect class="p" x="131.5" width="32.9" height="33"/><text x="147.9" y="21.5">5</text>
<rect class="p" x="164.4" width="32.9" height="33"/><text x="180.8" y="21.5">6</text>
<rect class="p" x="197.3" width="32.9" height="33"/><text x="213.7" y="21.5">7</text>
<rect class="p" x="230.1" width="32.9" height="33"/><text x="246.6" y="21.5">8</text>
<rect class="p" x="263" width="32.9" height="33"/><text x="279.4" y="21.5">9</text>
<rect class="p" x="295.9" width="32.9" height="33"/><text x="312.3" y="21.5">10</text>
<rect class="p" x="328.8" width="32.9" height="33"/><text x="345.2" y="21.5">11</text>
<rect class="p" x="361.6" width="32.9" height="33"/><text x="378.1" y="21.5">12</text>
<rect class="p" x="394.5" width="32.9" height="33"/><text x="410.9" y="21.5">13</text>
<rect class="p" x="427.4" width="32.9" height="33"/><text x="443.8" y="21.5">14</text>
<rect class="p" x="460.3" width="32.9" height="33"/><text x="476.7" y="21.5">15</text>
<rect class="p" x="493.1" width="32.9" height="33"/><text x="509.6" y="21.5">16</text>
<rect class="p" x="526" width="32.9" height="33"/><text x="542.4" y="21.5">17</text>
<rect class="p" x="558.9" width="32.9" height="33"/><text x="575.3" y="21.5">18</text>
<rect class="p" x="591.8" width="32.9" height="33"/><text x="608.2" y="21.5">19</text>
<rect class="p" x="624.6" width="32.9" height="33"/><text x="641.1" y="21.5">20</text>
<rect class="p" x="657.5" width="32.9" height="33"/><text x="673.9" y="21.5">21</text>
<rect class="p" x="690.4" width="32.9" height="33"/><text x="706.8" y="21.5">22</text>
<rect class="p" x="723.3" width="32.9" height="33"/><text x="739.7" y="21.5">23</text>
<rect class="p" x="756.1" width="32.9" height="33"/><text x="772.6" y="21.5">24</text>
<rect class="p" x="789" width="32.9" height="33"/><text x="805.4" y="21.5">25</text>
<rect class="p" x="821.9" width="32.9" height="33"/><text x="838.3" y="21.5">26</text>
<rect class="p" x="854.8" width="32.9" height="33"/><text x="871.2" y="21.5">27</text>
<rect class="p" x="887.6" width="32.9" height="33"/><text x="904.1" y="21.5">28</text>
<rect class="p" x="920.5" width="32.9" height="33"/><text x="936.9" y="21.5">29</text>
<rect class="p" x="953.4" width="32.9" height="33"/><text x="969.8" y="21.5">30</text>
<rect class="p" x="986.3" width="32.9" height="33"/><text x="1002.7" y="21.5">31</text>
<rect class="p" x="1019.1" width="32.9" height="33"/><text x="1035.6" y="21.5">32</text>
</g>

<g id="right-half" transform="translate(361.25,960.5)">
<rect class="V" x="0" width="32.9" height="33"/><text x="16.4" y="21.5">1</text>
<rect class="v" x="32.9" width="32.9" height="33"/><text x="49.3" y="21.5">2</text>
<rect class="V" x="65.8" width="32.9" height="33"/><text x="82.2" y="21.5">3</text>
<rect class="v" x="98.6" width="32.9" height="33"/><text x="115.1" y="21.5">4</text>
<rect class="v" x="131.5" width="32.9" height="33"/><text x="147.9" y="21.5">5</text>
<rect class="V" x="164.4" width="32.9" height="33"/><text x="180.8" y="21.5">6</text>
<rect class="v" x="197.3" width="32.9" height="33"/><text x="213.7" y="21.5">7</text>
<rect class="V" x="230.1" width="32.9" height="33"/><text x="246.6" y="21.5">8</text>
<rect class="v" x="263" width="32.9" height="33"/><text x="279.4" y="21.5">9</text>
<rect class="V" x="295.9" width="32.9" height="33"/><text x="312.3" y="21.5">10</text>
<rect class="v" x="328.8" width="32.9" height="33"/><text x="345.2" y="21.5">11</text>
<rect class="v" x="361.6" width="32.9" height="33"/><text x="378.1" y="21.5">12</text>
<rect class="v" x="394.5" width="32.9" height="33"/><text x="410.9" y="21.5">13</text>
<rect class="V" x="427.4" width="32.9" height="33"/><text x="443.8" y="21.5">14</text>
<rect class="v" x="460.3" width="32.9" height="33"/><text x="476.7" y="21.5">15</text>
<rect class="V" x="493.1" width="32.9" height="33"/><text x="509.6" y="21.5">16</text>
<rect class="v" x="526" width="32.9" height="33"/><text x="542.4" y="21.5">17</text>
<rect class="v" x="558.9" width="32.9" height="33"/><text x="575.3" y="21.5">18</text>
<rect class="v" x="591.8" width="32.9" height="33"/><text x="608.2" y="21.5">19</text>
<rect class="V" x="624.6" width="32.9" height="33"/><text x="641.1" y="21.5">20</text>
<rect class="v" x="657.5" width="32.9" height="33"/><text x="673.9" y="21.5">21</text>
<rect class="v" x="690.4" width="32.9" height="33"/><text x="706.8" y="21.5">22</text>
<rect class="v" x="723.3" width="32.9" height="33"/><text x="739.7" y="21.5">23</text>
<rect class="V" x="756.1" width="32.9" height="33"/><text x="772.6" y="21.5">24</text>
<rect class="V" x="789" width="32.9" height="33"/><text x="805.4" y="21.5">25</text>
<rect class="V" x="821.9" width="32.9" height="33"/><text x="838.3" y="21.5">26</text>
<rect class="v" x="854.8" width="32.9" height="33"/><text x="871.2" y="21.5">27</text>
<rect class="v" x="887.6" width="32.9" height="33"/><text x="904.1" y="21.5">28</text>
<rect class="v" x="920.5" width="32.9" height="33"/><text x="936.9" y="21.5">29</text>
<rect class="V" x="953.4" width="32.9" height="33"/><text x="969.8" y="21.5">30</text>
<rect class="v" x="986.3" width="32.9" height="33"/><text x="1002.7" y="21.5">31</text>
<rect class="v" x="1019.1" width="32.9" height="33"/><text x="1035.6" y="21.5">32</text>
</g>
</svg>
